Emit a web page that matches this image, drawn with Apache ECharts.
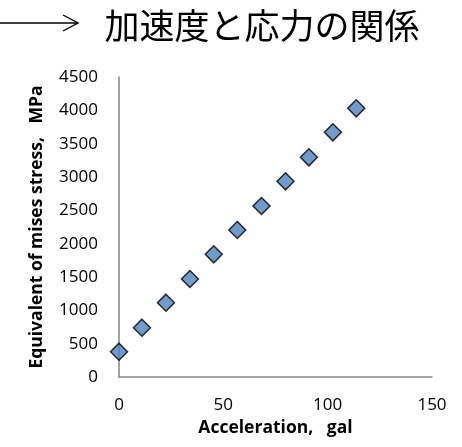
<!DOCTYPE html>
<html>
<head>
<meta charset="utf-8">
<script src="https://cdn.jsdelivr.net/npm/echarts@6/dist/echarts.min.js"></script>
<style>html,body{margin:0;padding:0;background:#fff}#c{width:462px;height:447px}</style>
</head>
<body>
<div id="c"></div>
<script>
const titleText = '加速度と応力の関係';
const xName = 'Acceleration,   gal';
const yName = 'Equivalent of mises stress,   MPa';
const acceleration = [0, 11, 22.5, 34, 45.4, 56.7, 68.3, 79.8, 91, 102.5, 113.7];
const stress = [380, 740, 1115, 1470, 1840, 2205, 2565, 2935, 3295, 3670, 4030];

const chart = echarts.init(document.getElementById('c'), null, {renderer: 'canvas'});
const font = '"Open Sans", "Noto Sans", sans-serif';
chart.setOption({
  backgroundColor: '#fff',
  animation: false,
  title: {
    text: titleText,
    left: 257, top: 3, textAlign: 'center',
    textStyle: {fontFamily: '"Noto Sans CJK JP", sans-serif', fontSize: 35, fontWeight: 'normal', color: '#000'}
  },
  graphic: [
    {type: 'line', shape: {x1: 0, y1: 23, x2: 77, y2: 23}, style: {stroke: '#000', lineWidth: 1.5}},
    {type: 'polyline', shape: {points: [[63, 15], [78, 23], [63, 31]]}, style: {stroke: '#000', lineWidth: 1.4, fill: null}}
  ],
  grid: {left: 119, right: 30, top: 77, bottom: 70},
  xAxis: {
    type: 'value', min: 0, max: 150, interval: 50,
    name: xName, nameLocation: 'middle', nameGap: 29,
    nameTextStyle: {fontFamily: font, fontSize: 17.5, fontWeight: 'bold', color: '#000'},
    axisLine: {show: true, lineStyle: {color: '#868686', width: 1.5}},
    axisTick: {show: false},
    splitLine: {show: false},
    axisLabel: {fontFamily: font, fontSize: 17, color: '#000', margin: 20, formatter: v => String(v)}
  },
  yAxis: {
    type: 'value', min: 0, max: 4500, interval: 500,
    name: yName, nameLocation: 'middle', nameGap: 73,
    nameTextStyle: {fontFamily: font, fontSize: 17.5, fontWeight: 'bold', color: '#000'},
    axisLine: {show: true, lineStyle: {color: '#868686', width: 1.5}},
    axisTick: {show: false},
    splitLine: {show: false},
    axisLabel: {fontFamily: font, fontSize: 17, color: '#000', margin: 21, formatter: v => String(v)}
  },
  series: [{
    type: 'scatter',
    symbol: 'diamond',
    symbolSize: 17,
    data: acceleration.map((a, i) => [a, stress[i]]),
    itemStyle: {color: '#4F81BD', borderColor: '#000', borderWidth: 1.5}
  }]
});
</script>
</body>
</html>
